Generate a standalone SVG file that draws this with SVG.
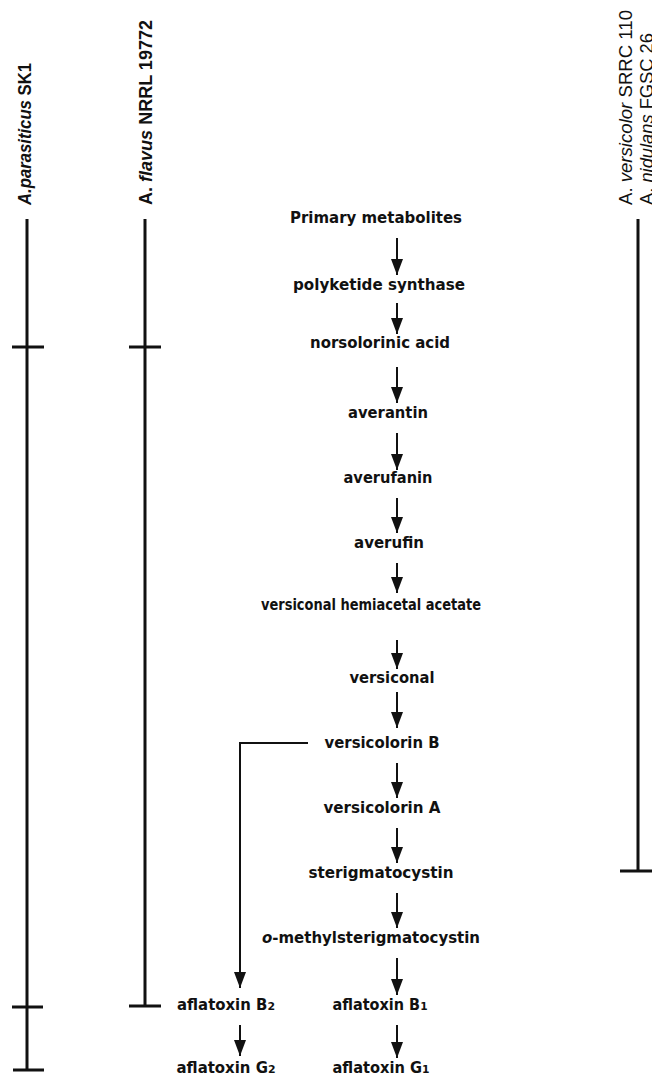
<svg xmlns="http://www.w3.org/2000/svg" width="652" height="1077" viewBox="0 0 652 1077">
<style>
.n{font-family:"DejaVu Sans","Liberation Sans",sans-serif;font-weight:bold;font-size:15px;fill:#111;text-anchor:middle}
.sp{font-family:"Liberation Sans",Arial,sans-serif;font-size:18px;fill:#111}
.b{font-weight:bold}
.i{font-style:italic}
.bar{stroke:#111;stroke-width:3;fill:none}
.ar{stroke:#111;stroke-width:2;fill:none;marker-end:url(#ah)}
</style>
<defs>
<marker id="ah" viewBox="0 0 16 12" refX="16" refY="6" markerWidth="16" markerHeight="12" markerUnits="userSpaceOnUse" orient="auto">
<path d="M0,0 L16,6 L0,12 Z" fill="#111"/>
</marker>
</defs>
<rect width="652" height="1077" fill="#fff"/>

<g id="strain-parasiticus">
<text class="sp b" transform="translate(31,205) rotate(-90)" textLength="142" lengthAdjust="spacingAndGlyphs"><tspan class="i">A.parasiticus</tspan> SK1</text>
<path class="bar" d="M27,219 V1070 M12,347 H44 M12,1007 H43 M13,1070 H44"/>
</g>
<g id="strain-flavus">
<text class="sp b" transform="translate(152,205) rotate(-90)" textLength="185" lengthAdjust="spacingAndGlyphs">A. <tspan class="i">flavus</tspan> NRRL 19772</text>
<path class="bar" d="M145,219 V1006 M129,347 H161 M129,1006 H161"/>
</g>
<g id="strain-versicolor">
<text class="sp" transform="translate(632,205) rotate(-90)" textLength="195" lengthAdjust="spacingAndGlyphs">A. <tspan class="i">versicolor</tspan> SRRC 110</text>
<text class="sp" transform="translate(653,205) rotate(-90)" textLength="172" lengthAdjust="spacingAndGlyphs">A. <tspan class="i">nidulans</tspan> FGSC 26</text>
<path class="bar" d="M638,219 V871 M620,871 H652"/>
</g>

<g id="n-primary"><text class="n" x="376" y="223" textLength="172" lengthAdjust="spacingAndGlyphs">Primary metabolites</text></g>
<g id="n-pks"><text class="n" x="379" y="290" textLength="172" lengthAdjust="spacingAndGlyphs">polyketide synthase</text></g>
<g id="n-nor"><text class="n" x="380" y="348" textLength="140" lengthAdjust="spacingAndGlyphs">norsolorinic acid</text></g>
<g id="n-averantin"><text class="n" x="388" y="418" textLength="80" lengthAdjust="spacingAndGlyphs">averantin</text></g>
<g id="n-averufanin"><text class="n" x="388" y="483" textLength="89" lengthAdjust="spacingAndGlyphs">averufanin</text></g>
<g id="n-averufin"><text class="n" x="389" y="548" textLength="70" lengthAdjust="spacingAndGlyphs">averufin</text></g>
<g id="n-vha"><text class="n" x="371" y="610" textLength="220" lengthAdjust="spacingAndGlyphs">versiconal hemiacetal acetate</text></g>
<g id="n-versiconal"><text class="n" x="392" y="683" textLength="85" lengthAdjust="spacingAndGlyphs">versiconal</text></g>
<g id="n-versB"><text class="n" x="382" y="748" textLength="115" lengthAdjust="spacingAndGlyphs">versicolorin B</text></g>
<g id="n-versA"><text class="n" x="382" y="813" textLength="117" lengthAdjust="spacingAndGlyphs">versicolorin A</text></g>
<g id="n-ster"><text class="n" x="381" y="878" textLength="145" lengthAdjust="spacingAndGlyphs">sterigmatocystin</text></g>
<g id="n-omst"><text class="n" x="371" y="943" textLength="218" lengthAdjust="spacingAndGlyphs"><tspan class="i">o</tspan>-methylsterigmatocystin</text></g>
<g id="n-B1"><text class="n" x="380" y="1010" textLength="95" lengthAdjust="spacingAndGlyphs">aflatoxin B<tspan font-size="11">1</tspan></text></g>
<g id="n-G1"><text class="n" x="381" y="1073" textLength="97" lengthAdjust="spacingAndGlyphs">aflatoxin G<tspan font-size="11">1</tspan></text></g>
<g id="n-B2"><text class="n" x="226" y="1010" textLength="98" lengthAdjust="spacingAndGlyphs">aflatoxin B<tspan font-size="11">2</tspan></text></g>
<g id="n-G2"><text class="n" x="226" y="1073" textLength="99" lengthAdjust="spacingAndGlyphs">aflatoxin G<tspan font-size="11">2</tspan></text></g>

<g id="connectors">
<path class="ar" d="M397,238 V275"/>
<path class="ar" d="M397,303 V334"/>
<path class="ar" d="M397,367 V403"/>
<path class="ar" d="M397,433 V470"/>
<path class="ar" d="M397,498 V533"/>
<path class="ar" d="M397,563 V593"/>
<path class="ar" d="M397,640 V669"/>
<path class="ar" d="M397,692 V728"/>
<path class="ar" d="M397,763 V798"/>
<path class="ar" d="M397,828 V863"/>
<path class="ar" d="M397,893 V928"/>
<path class="ar" d="M397,958 V995"/>
<path class="ar" d="M397,1025 V1058"/>
<path class="ar" d="M308,743 H240 V988"/>
<path class="ar" d="M240,1025 V1056"/>
</g>
</svg>
